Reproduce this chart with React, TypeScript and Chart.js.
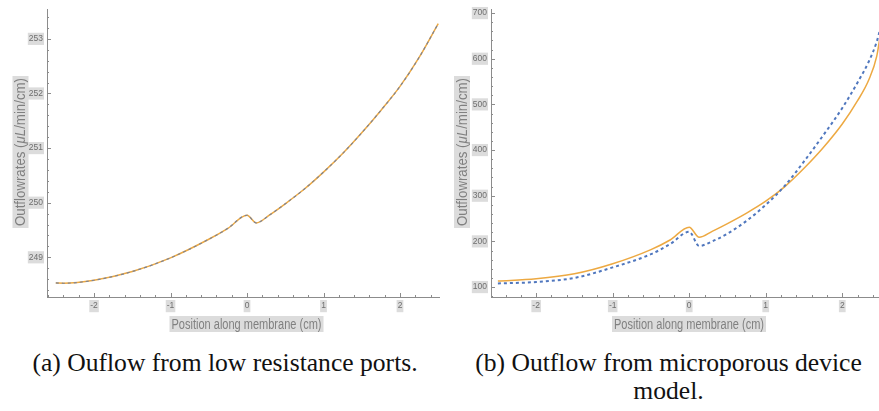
import React, { useEffect, useRef } from 'react';
import { Chart, registerables } from 'chart.js';

Chart.register(...registerables);

// ---------- data ----------
const leftX = [-2.5, -2.4, -2.0, -1.5, -1.0, -0.5, -0.25, 0.0, 0.12, 0.3, 0.5, 0.75, 1.0, 1.25, 1.5, 1.75, 2.0, 2.25, 2.5];
const leftSolid = [248.53, 248.525, 248.58, 248.74, 248.99, 249.33, 249.53, 249.77, 249.63, 249.78, 249.98, 250.25, 250.56, 250.9, 251.28, 251.69, 252.13, 252.66, 253.28];
const leftDashed = [248.53, 248.525, 248.58, 248.74, 248.99, 249.33, 249.53, 249.77, 249.63, 249.78, 249.98, 250.25, 250.56, 250.9, 251.28, 251.69, 252.13, 252.66, 253.28];

const rightX = [-2.5, -2.0, -1.5, -1.0, -0.5, -0.25, 0.0, 0.13, 0.3, 0.5, 0.75, 1.0, 1.25, 1.5, 1.75, 2.0, 2.2, 2.35, 2.45, 2.5];
const rightSolid = [113, 118, 129, 151, 182, 203, 231, 209, 222, 239, 262, 288, 320, 360, 405, 457, 508, 555, 605, 655];
const rightDotted = [108, 111, 120, 143, 172, 194, 221, 190, 200, 217, 245, 280, 322, 375, 432, 492, 548, 595, 637, 668];

const xTickLabels = [-2, -1, 0, 1, 2];
const leftYTickLabels = [249, 250, 251, 252, 253];
const rightYTickLabels = [100, 200, 300, 400, 500, 600, 700];

const xTitle = 'Position along membrane (cm)';
const yTitleParts = [
  { t: 'Outflowrates (', italic: false },
  { t: 'μL', italic: true },
  { t: '/min/cm)', italic: false },
];
const captionA = '(a) Ouflow from low resistance ports.';
const captionB1 = '(b) Outflow from microporous device';
const captionB2 = 'model.';

// ---------- styles ----------
const ORANGE = '#EDA942';
const BLUE = '#5077BE';
const AXIS = '#8c8c8c';
const LABEL = '#6e6e6e';
const BOX = '#dcdcdc';
const SANS = '"Liberation Sans", Arial, sans-serif';

type Part = { t: string; italic: boolean };

function drawBoxedText(
  ctx: CanvasRenderingContext2D,
  parts: Part[],
  cx: number,
  cy: number,
  vertical: boolean,
  targetW: number,
  size: number
) {
  ctx.save();
  ctx.translate(cx, cy);
  if (vertical) ctx.rotate(-Math.PI / 2);
  const fonts = parts.map((p) => `${p.italic ? 'italic ' : ''}${size}px ${SANS}`);
  let w = 0;
  const ws = parts.map((p, i) => {
    ctx.font = fonts[i];
    const m = ctx.measureText(p.t).width;
    w += m;
    return m;
  });
  const boxW = targetW + 4;
  const boxH = size + 2;
  ctx.fillStyle = BOX;
  ctx.fillRect(-boxW / 2, -boxH / 2, boxW, boxH);
  ctx.scale(targetW / w, 1);
  ctx.fillStyle = '#808080';
  ctx.textBaseline = 'middle';
  ctx.textAlign = 'left';
  let x = -w / 2;
  parts.forEach((p, i) => {
    ctx.font = fonts[i];
    ctx.fillText(p.t, x, 1);
    x += ws[i];
  });
  ctx.restore();
}

const isIn = (arr: number[], v: number) => arr.some((a) => Math.abs(a - v) < 1e-6);

interface Cfg {
  xs: number[];
  solid: number[];
  dashed: number[];
  dash: number[];
  dashColor: string;
  dashWidth: number;
  xMin: number;
  xMax: number;
  yMin: number;
  yMax: number;
  yStep: number;
  yLabels: number[];
  padTop: number;
  padRight: number;
  yAxisW: number;
  xTitleCx: number;
  yTitleCx: number;
}

function makeChart(canvas: HTMLCanvasElement, c: Cfg) {
  const toPts = (ys: number[]) => c.xs.map((x, i) => ({ x, y: ys[i] }));
  const decor = {
    id: 'decor',
    afterDraw(chart: any) {
      const { ctx, chartArea } = chart;
      const sx = chart.scales.x;
      const sy = chart.scales.y;
      ctx.save();
      ctx.strokeStyle = AXIS;
      ctx.lineWidth = 1;
      sx.ticks.forEach((t: any) => {
        const px = Math.round(sx.getPixelForValue(t.value)) + 0.5;
        const len = isIn(xTickLabels, t.value) ? 4 : 2;
        ctx.beginPath();
        ctx.moveTo(px, chartArea.bottom);
        ctx.lineTo(px, chartArea.bottom - len);
        ctx.stroke();
      });
      sy.ticks.forEach((t: any) => {
        const py = Math.round(sy.getPixelForValue(t.value)) + 0.5;
        const len = isIn(c.yLabels, t.value) ? 4 : 2;
        ctx.beginPath();
        ctx.moveTo(chartArea.left, py);
        ctx.lineTo(chartArea.left + len, py);
        ctx.stroke();
      });
      ctx.restore();
      drawBoxedText(ctx, [{ t: xTitle, italic: false }], c.xTitleCx, 324, false, 150, 14);
      drawBoxedText(ctx, yTitleParts, c.yTitleCx, 152, true, 148, 14);
    },
  };
  const tickFont = { size: 8.5, family: SANS };
  return new Chart(canvas, {
    type: 'line',
    data: {
      datasets: [
        {
          data: toPts(c.dashed),
          borderColor: c.dashColor,
          borderWidth: c.dashWidth,
          borderDash: c.dash,
          pointRadius: 0,
          fill: false,
          cubicInterpolationMode: 'monotone',
        },
        {
          data: toPts(c.solid),
          borderColor: ORANGE,
          borderWidth: 1.5,
          pointRadius: 0,
          fill: false,
          cubicInterpolationMode: 'monotone',
        },
      ],
    },
    options: {
      animation: false,
      responsive: false,
      devicePixelRatio: 1,
      layout: { padding: { top: c.padTop, right: c.padRight, left: 0, bottom: 0 } },
      plugins: { legend: { display: false }, tooltip: { enabled: false } },
      scales: {
        x: {
          type: 'linear',
          min: c.xMin,
          max: c.xMax,
          grid: { display: false, drawTicks: false },
          border: { display: true, color: AXIS, width: 1 },
          ticks: {
            stepSize: 0.2,
            includeBounds: false,
            autoSkip: false,
            maxRotation: 0,
            padding: 4,
            font: tickFont,
            color: LABEL,
            callback: (v: any) => (isIn(xTickLabels, Number(v)) ? String(Math.round(Number(v))) : ''),
            showLabelBackdrop: (ctx: any) => !!ctx.tick && isIn(xTickLabels, ctx.tick.value),
            backdropColor: BOX,
            backdropPadding: 1,
          } as any,
          afterFit: (s: any) => {
            s.height = 43;
          },
        },
        y: {
          type: 'linear',
          min: c.yMin,
          max: c.yMax,
          grid: { display: false, drawTicks: false },
          border: { display: true, color: AXIS, width: 1 },
          ticks: {
            stepSize: c.yStep,
            includeBounds: false,
            autoSkip: false,
            padding: 4,
            font: tickFont,
            color: LABEL,
            callback: (v: any) => (isIn(c.yLabels, Number(v)) ? String(Math.round(Number(v))) : ''),
            showLabelBackdrop: (ctx: any) => !!ctx.tick && isIn(c.yLabels, ctx.tick.value),
            backdropColor: BOX,
            backdropPadding: 1,
          } as any,
          afterFit: (s: any) => {
            s.width = c.yAxisW;
          },
        },
      },
    } as any,
    plugins: [decor],
  });
}

export default function App() {
  const leftRef = useRef<HTMLCanvasElement>(null);
  const rightRef = useRef<HTMLCanvasElement>(null);

  useEffect(() => {
    const a = makeChart(leftRef.current!, {
      xs: leftX,
      solid: leftSolid,
      dashed: leftDashed,
      dash: [3, 3],
      dashColor: '#7d8496',
      dashWidth: 1.2,
      xMin: -2.615,
      xMax: 2.51,
      yMin: 248.273,
      yMax: 253.545,
      yStep: 0.2,
      yLabels: leftYTickLabels,
      padTop: 7,
      padRight: 1,
      yAxisW: 47,
      xTitleCx: 246.5,
      yTitleCx: 20.5,
    });
    const b = makeChart(rightRef.current!, {
      xs: rightX,
      solid: rightSolid,
      dashed: rightDotted,
      dash: [3, 3],
      dashColor: BLUE,
      dashWidth: 2,
      xMin: -2.59,
      xMax: 2.48,
      yMin: 78.2,
      yMax: 708.7,
      yStep: 20,
      yLabels: rightYTickLabels,
      padTop: 8,
      padRight: 0,
      yAxisW: 51,
      xTitleCx: 249,
      yTitleCx: 22,
    });
    return () => {
      a.destroy();
      b.destroy();
    };
  }, []);

  const cap: React.CSSProperties = {
    position: 'absolute',
    fontFamily: '"Liberation Serif", "Times New Roman", serif',
    fontSize: '25.6px',
    lineHeight: '28px',
    textAlign: 'center',
    color: '#111',
    whiteSpace: 'nowrap',
  };

  return (
    <div style={{ position: 'absolute', left: 0, top: 0, width: 879, height: 411, background: '#fff', overflow: 'hidden' }}>
      <canvas ref={leftRef} width={440} height={340} style={{ position: 'absolute', left: 0, top: 0, width: 440, height: 340 }} />
      <canvas ref={rightRef} width={439} height={340} style={{ position: 'absolute', left: 440, top: 0, width: 439, height: 340 }} />
      <div style={{ ...cap, left: 0, width: 450, top: 349 }}>{captionA}</div>
      <div style={{ ...cap, left: 440, width: 457, top: 349 }}>
        {captionB1}
        <br />
        {captionB2}
      </div>
    </div>
  );
}
